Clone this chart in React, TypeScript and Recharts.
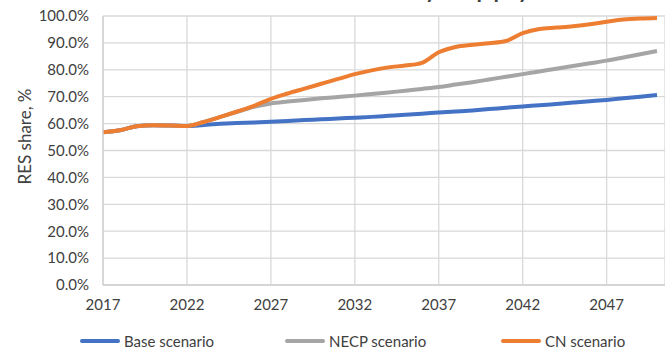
import { CartesianGrid, Customized, Label, Legend, Line, LineChart, XAxis, YAxis } from "recharts";

const years = [
  "2017", "2018", "2019", "2020", "2021", "2022", "2023", "2024", "2025", "2026",
  "2027", "2028", "2029", "2030", "2031", "2032", "2033", "2034", "2035", "2036",
  "2037", "2038", "2039", "2040", "2041", "2042", "2043", "2044", "2045", "2046",
  "2047", "2048", "2049", "2050"
];

const baseScenario = [
  56.8, 57.5, 59.0, 59.4, 59.3, 59.1, 59.5, 59.9, 60.2, 60.4,
  60.7, 61.0, 61.3, 61.6, 61.9, 62.2, 62.5, 62.9, 63.3, 63.7,
  64.1, 64.5, 64.9, 65.4, 65.9, 66.4, 66.8, 67.3, 67.8, 68.3,
  68.8, 69.4, 70.0, 70.6
];

const necpScenario = [
  56.8, 57.5, 59.0, 59.4, 59.3, 59.1, 60.6, 62.5, 64.4, 66.2,
  67.5, 68.2, 68.8, 69.4, 69.9, 70.4, 71.0, 71.6, 72.2, 72.9,
  73.6, 74.5, 75.4, 76.4, 77.4, 78.4, 79.4, 80.4, 81.4, 82.4,
  83.4, 84.6, 85.8, 87.0
];

const cnScenario = [
  56.8, 57.5, 59.0, 59.4, 59.3, 59.1, 60.6, 62.5, 64.5, 66.6,
  69.2, 71.2, 73.0, 74.8, 76.6, 78.4, 79.8, 80.9, 81.6, 82.6,
  86.5, 88.5, 89.3, 89.9, 90.7, 93.6, 95.2, 95.7, 96.2, 96.9,
  97.9, 98.7, 99.1, 99.3
];

const xTicks = ["2017", "2022", "2027", "2032", "2037", "2042", "2047"];
const yTicks = [0, 10, 20, 30, 40, 50, 60, 70, 80, 90, 100];

const series = [
  { key: "base", name: "Base scenario", color: "#4472C4", values: baseScenario },
  { key: "necp", name: "NECP scenario", color: "#A5A5A5", values: necpScenario },
  { key: "cn", name: "CN scenario", color: "#ED7D31", values: cnScenario }
];

const data = years.map((year, i) => ({
  year,
  base: baseScenario[i],
  necp: necpScenario[i],
  cn: cnScenario[i]
}));

const legendLeft = [80, 285, 501];

function ChartLegend() {
  return (
    <div style={{ position: "relative", width: 665, height: 20 }}>
      {series.map((s, i) => (
        <div
          key={s.key}
          style={{
            position: "absolute",
            left: legendLeft[i],
            top: 0,
            height: 20,
            display: "flex",
            alignItems: "center",
            whiteSpace: "nowrap"
          }}
        >
          <span style={{ display: "inline-block", width: 40, height: 4, background: s.color, borderRadius: 2 }} />
          <span style={{ marginLeft: 4, fontSize: 15, color: "#404040" }}>{s.name}</span>
        </div>
      ))}
    </div>
  );
}

function YTitle({ viewBox }: any) {
  const x = viewBox.x + 24;
  const y = viewBox.y + viewBox.height / 2 - 14;
  return (
    <text x={x} y={y} transform={`rotate(-90 ${x} ${y})`} textAnchor="middle" dominantBaseline="central" fontSize={17} fill="#404040">
      RES share, %
    </text>
  );
}

// only the descenders of the title show at the top edge
function ChartTitle() {
  return (
    <text x={532} y={-3} textAnchor="end" fontSize={30} fill="#404040">
      RES share in electricity supply
    </text>
  );
}

export default function App() {
  return (
    <div style={{ width: 665, height: 350, fontFamily: "Lato, sans-serif", background: "#fff" }}>
      <style>{"body{margin:0}"}</style>
      <LineChart width={665} height={350} data={data} margin={{ top: 16, right: 0, bottom: 15, left: 0 }}>
        <CartesianGrid stroke="#d9d9d9" strokeWidth={1.3} />
        <XAxis
          dataKey="year"
          ticks={xTicks}
          interval={0}
          padding={{ left: 0, right: 8 }}
          tickLine={false}
          tickSize={6}
          tickMargin={8}
          stroke="#d0d0d0"
          strokeWidth={1.3}
          tick={{ fill: "#404040", fontSize: 15 }}
        />
        <YAxis
          width={103}
          domain={[0, 100]}
          ticks={yTicks}
          tickFormatter={(v: number) => `${v.toFixed(1)}%`}
          tickLine={false}
          tickSize={6}
          tickMargin={8}
          stroke="#d0d0d0"
          strokeWidth={1.3}
          tick={{ fill: "#404040", fontSize: 15 }}
        >
          <Label content={YTitle} />
        </YAxis>
        <Legend
          verticalAlign="bottom"
          content={() => <ChartLegend />}
          wrapperStyle={{ top: 331, left: 0, bottom: "auto", width: 665 }}
        />
        {series.map((s) => (
          <Line
            key={s.key}
            type="monotone"
            dataKey={s.key}
            name={s.name}
            stroke={s.color}
            strokeWidth={4}
            dot={false}
            activeDot={false}
            isAnimationActive={false}
          />
        ))}
        <Customized component={ChartTitle} />
      </LineChart>
    </div>
  );
}
